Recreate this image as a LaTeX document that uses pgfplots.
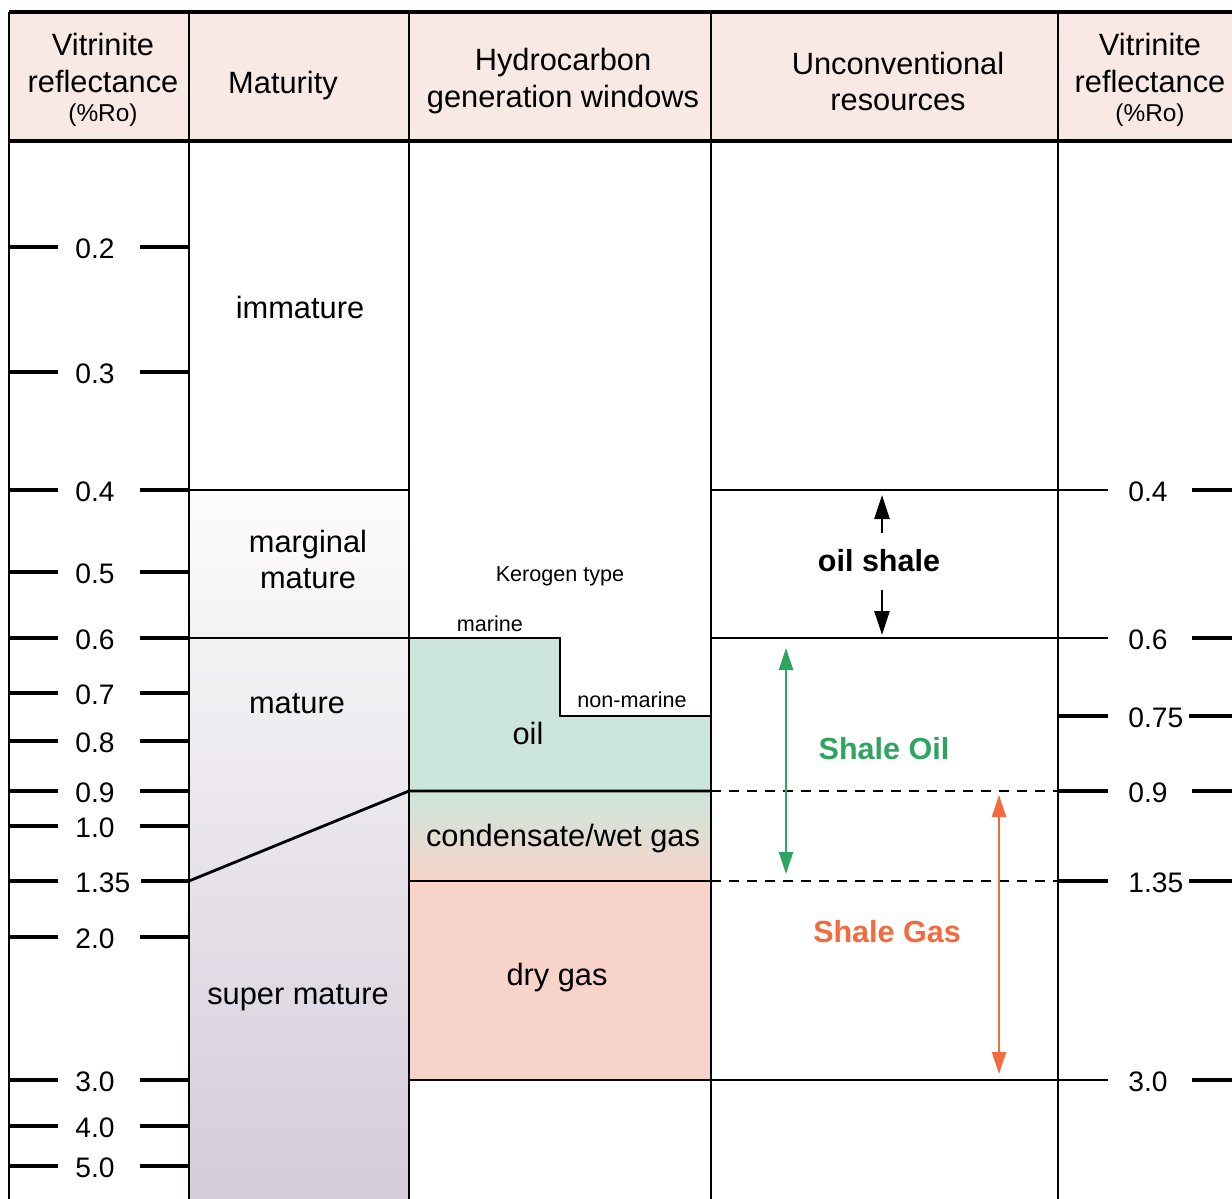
\documentclass[border=0pt]{standalone}
\usepackage{pgfplots}
\pgfplotsset{compat=1.18}
\usepackage{fontspec}
\setmainfont{Liberation Sans}
\usetikzlibrary{arrows.meta}
\definecolor{hdr}{HTML}{F8E9E5}
\definecolor{matA}{HTML}{FDFCFD}
\definecolor{matB}{HTML}{D4CCD9}
\definecolor{oilc}{HTML}{CCE6DB}
\definecolor{gasc}{HTML}{F7D3C9}
\definecolor{shgreen}{HTML}{2FA460}
\definecolor{shorange}{HTML}{F26B3E}
\newcommand{\fs}[2]{\fontsize{#1}{#2}\selectfont}
\begin{document}
\begin{tikzpicture}[
  ln/.style={black, line width=1.4pt},
  tk/.style={black, line width=1.9pt},
  tip/.style={-{Triangle[length=12pt,width=7.5pt]}},
  dtip/.style={{Triangle[length=11pt,width=7pt]}-{Triangle[length=11pt,width=7pt]}},
  sl/.style={anchor=base west, font=\fs{14.1}{17}, inner xsep=0pt},
]
\begin{axis}[
  width=616pt, height=599.5pt, scale only axis,
  xmin=0, xmax=1232, ymin=0, ymax=1199, y dir=reverse,
  hide axis, unbounded coords=jump,
  every axis plot/.append style={mark=none},
]
% background and fills
\addplot[fill=white, draw=none] coordinates {(0,0) (1232,0) (1232,1199) (0,1199)} -- cycle;
\addplot[fill=hdr, draw=none] coordinates {(9,12) (1232,12) (1232,141) (9,141)} -- cycle;
\addplot[draw=none, top color=matA, bottom color=matB] coordinates {(189,490) (409,490) (409,1199) (189,1199)} -- cycle;
\addplot[draw=none, fill=oilc] coordinates {(409,638) (560,638) (560,716) (711,716) (711,791) (409,791)} -- cycle;
\addplot[draw=none, top color=oilc, bottom color=gasc] coordinates {(409,791) (711,791) (711,881) (409,881)} -- cycle;
\addplot[draw=none, fill=gasc] coordinates {(409,881) (711,881) (711,1080) (409,1080)} -- cycle;

% frame and column lines
\addplot[black, line width=1.6pt] coordinates {(9,12) (1232,12) (1232,inf) (9,141) (1232,141)};
\addplot[ln] coordinates {(9,12) (9,1199) (9,inf) (189,12) (189,1199) (189,inf) (409,12) (409,1199) (409,inf) (711,12) (711,1199) (711,inf) (1058,12) (1058,1199)};

% zone boundaries
\addplot[ln] coordinates {(189,490) (409,490) (409,inf) (711,490) (1108,490)};
\addplot[ln] coordinates {(189,638) (560,638) (560,716) (711,716) (711,inf) (711,638) (1108,638)};
\addplot[ln] coordinates {(189,881) (409,791) (711,791)};
\addplot[ln] coordinates {(409,881) (711,881)};
\addplot[ln] coordinates {(409,1080) (1108,1080)};
\addplot[black, line width=1.2pt, dash pattern=on 5pt off 4pt] coordinates {(711,791) (1058,791) (1058,inf) (711,881) (1058,881)};

% left scale ticks (y positions of %Ro values)
\addplot[tk] coordinates {
 (9,247) (58,247) (9,inf) (140,247) (189,247) (9,inf)
 (9,372) (58,372) (9,inf) (140,372) (189,372) (9,inf)
 (9,490) (58,490) (9,inf) (140,490) (189,490) (9,inf)
 (9,572) (58,572) (9,inf) (140,572) (189,572) (9,inf)
 (9,638) (58,638) (9,inf) (140,638) (189,638) (9,inf)
 (9,693) (58,693) (9,inf) (140,693) (189,693) (9,inf)
 (9,741) (58,741) (9,inf) (140,741) (189,741) (9,inf)
 (9,791) (58,791) (9,inf) (140,791) (189,791) (9,inf)
 (9,826) (58,826) (9,inf) (140,826) (189,826) (9,inf)
 (9,881) (58,881) (9,inf) (141,881) (189,881) (9,inf)
 (9,937) (58,937) (9,inf) (140,937) (189,937) (9,inf)
 (9,1080) (58,1080) (9,inf) (140,1080) (189,1080) (9,inf)
 (9,1126) (58,1126) (9,inf) (140,1126) (189,1126) (9,inf)
 (9,1166) (58,1166) (9,inf) (140,1166) (189,1166)
};
% right scale ticks
\addplot[tk] coordinates {
 (1058,716) (1108,716) (1058,inf) (1189,716) (1232,716) (1058,inf)
 (1058,791) (1108,791) (1058,inf) (1192,791) (1232,791) (1058,inf)
 (1058,881) (1108,881) (1058,inf) (1189,881) (1232,881) (1058,inf)
 (1192,490) (1232,490) (1058,inf)
 (1192,638) (1232,638) (1058,inf)
 (1192,1080) (1232,1080)
};

% arrows
\addplot[black, line width=1.3pt, tip] coordinates {(882,533) (882,495)};
\addplot[black, line width=1.3pt, tip] coordinates {(882,590) (882,635)};
\addplot[shgreen, line width=1.2pt, dtip] coordinates {(786,648) (786,874)};
\addplot[shorange, line width=1.2pt, dtip] coordinates {(999,795) (999,1074)};

% header texts
\node[anchor=base, font=\fs{15.4}{18}] at (axis cs:103,55) {Vitrinite};
\node[anchor=base, font=\fs{15.4}{18}] at (axis cs:103,92) {reflectance};
\node[anchor=base, font=\fs{12.2}{14}] at (axis cs:103,121) {(\%Ro)};
\node[anchor=base, font=\fs{15.4}{18}] at (axis cs:283,93) {Maturity};
\node[anchor=base, font=\fs{15.4}{18}] at (axis cs:563,70) {Hydrocarbon};
\node[anchor=base, font=\fs{15.4}{18}] at (axis cs:563,107) {generation windows};
\node[anchor=base, font=\fs{15.4}{18}] at (axis cs:898,74) {Unconventional};
\node[anchor=base, font=\fs{15.4}{18}] at (axis cs:898,110) {resources};
\node[anchor=base, font=\fs{15.4}{18}] at (axis cs:1150,55) {Vitrinite};
\node[anchor=base, font=\fs{15.4}{18}] at (axis cs:1150,92) {reflectance};
\node[anchor=base, font=\fs{12.2}{14}] at (axis cs:1150,121) {(\%Ro)};

% maturity texts
\node[anchor=base, font=\fs{15.4}{18}] at (axis cs:300,318) {immature};
\node[anchor=base, font=\fs{15.4}{18}] at (axis cs:308,552) {marginal};
\node[anchor=base, font=\fs{15.4}{18}] at (axis cs:308,588) {mature};
\node[anchor=base, font=\fs{15.4}{18}] at (axis cs:297,713) {mature};
\node[anchor=base, font=\fs{15.4}{18}] at (axis cs:298,1004) {super mature};

% hydrocarbon texts
\node[anchor=base, font=\fs{10.8}{13}] at (axis cs:560,581) {Kerogen type};
\node[anchor=base, font=\fs{10.8}{13}] at (axis cs:490,631) {marine};
\node[anchor=base, font=\fs{10.8}{13}] at (axis cs:632,707) {non-marine};
\node[anchor=base, font=\fs{15.4}{18}] at (axis cs:528,744) {oil};
\node[anchor=base, font=\fs{15.4}{18}] at (axis cs:563,846) {condensate/wet gas};
\node[anchor=base, font=\fs{15.4}{18}] at (axis cs:557,985) {dry gas};

% unconventional texts
\node[anchor=base, font=\fs{15.25}{18}\bfseries] at (axis cs:879,571) {oil shale};
\node[anchor=base, font=\fs{15.25}{18}\bfseries, text=shgreen] at (axis cs:884,759) {Shale Oil};
\node[anchor=base, font=\fs{15.25}{18}\bfseries, text=shorange] at (axis cs:887,942) {Shale Gas};

% left scale labels (baseline = tick y + 10)
\node[sl] at (axis cs:75,258) {0.2};
\node[sl] at (axis cs:75,383) {0.3};
\node[sl] at (axis cs:75,501) {0.4};
\node[sl] at (axis cs:75,583) {0.5};
\node[sl] at (axis cs:75,649) {0.6};
\node[sl] at (axis cs:75,704) {0.7};
\node[sl] at (axis cs:75,752) {0.8};
\node[sl] at (axis cs:75,802) {0.9};
\node[sl] at (axis cs:75,837) {1.0};
\node[sl] at (axis cs:75,892) {1.35};
\node[sl] at (axis cs:75,948) {2.0};
\node[sl] at (axis cs:75,1091) {3.0};
\node[sl] at (axis cs:75,1137) {4.0};
\node[sl] at (axis cs:75,1177) {5.0};
% right scale labels
\node[sl] at (axis cs:1128,501) {0.4};
\node[sl] at (axis cs:1128,649) {0.6};
\node[sl] at (axis cs:1128,727) {0.75};
\node[sl] at (axis cs:1128,802) {0.9};
\node[sl] at (axis cs:1128,892) {1.35};
\node[sl] at (axis cs:1128,1091) {3.0};
\end{axis}
\end{tikzpicture}
\end{document}
